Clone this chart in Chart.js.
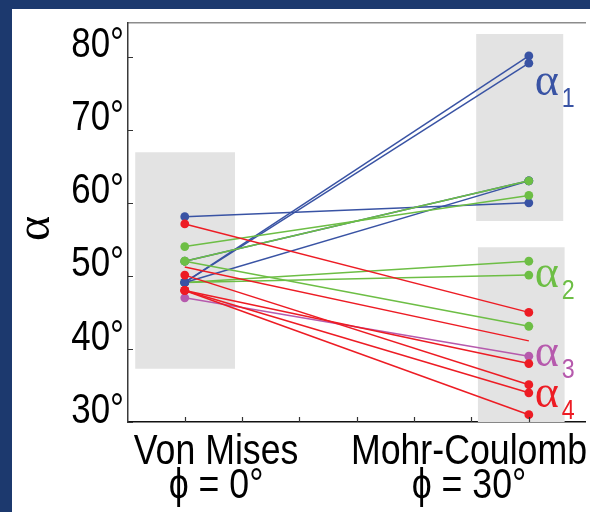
<!DOCTYPE html>
<html><head><meta charset="utf-8">
<script src="https://cdn.jsdelivr.net/npm/chart.js@4.4.1/dist/chart.umd.min.js"></script>
<style>
html,body{margin:0;padding:0;background:#1c396e;width:590px;height:512px;overflow:hidden}
#panel{position:absolute;left:12px;top:9px;width:578px;height:503px;background:#fff;overflow:hidden}
canvas{display:block}
</style></head><body>
<div id="panel"><canvas id="c" width="578" height="503"></canvas></div>
<script>
// ---- data ----
const categories = [['Von Mises', 'ϕ = 0°'], ['Mohr-Coulomb', 'ϕ = 30°']];
const yTickValues = [30, 35, 40, 45, 50, 55, 60, 65, 70, 75, 80];
const xTickValues = [0, 1/6, 2/6, 3/6, 4/6, 5/6, 1];

// alpha_1 (blue): Von Mises -> Mohr-Coulomb
const alpha1VonMises     = [58.1, 49.1, 49.1, 52.0, 49.1];
const alpha1MohrCoulomb  = [60.0, 80.1, 79.1, 63.0, 63.0];
// alpha_2 (green)
const alpha2VonMises     = [54.0, 52.0, 52.0, 49.1, 49.1];
const alpha2MohrCoulomb  = [61.0, 63.0, 43.1, 52.0, 50.1];
// alpha_3 (purple)
const alpha3VonMises     = [47.0];
const alpha3MohrCoulomb  = [39.0];
// alpha_4 (red)
const alpha4VonMises     = [57.1, 51.2, 48.0, 50.1, 48.0, 48.0];
const alpha4MohrCoulomb  = [45.0, 41.1, 38.0, 35.1, 34.0, 31.0];

// shaded ranges: x extent and (low, high) in data units
const rangeVonMisesX     = [-0.144, 0.146];
const rangeVonMisesY     = [37.3, 66.9];
const rangeMohrUpperX    = [0.847, 1.100];
const rangeMohrUpperY    = [57.5, 83.1];
const rangeMohrLowerX    = [0.852, 1.104];
const rangeMohrLowerY    = [30.0, 53.9];

// ---- styles ----
const BLUE = '#3953a4', GREEN = '#6dbe45', PURPLE = '#b65aad', RED = '#ed1c24';
const SANS = '"Liberation Sans", Arial, sans-serif';
const SERIF = '"Liberation Serif", "DejaVu Serif", serif';
const CONDENSE = 0.83;
const X_MIN = -0.165, X_MAX = 1.165, Y_MIN = 30, Y_MAX = 84.6;

// Linear scale whose tick labels are drawn horizontally condensed (narrow face look)
class CondensedLinear extends Chart.LinearScale {
  drawLabels(chartArea) {
    if (!this.options.ticks.display) return;
    const ctx = this.ctx, k = this.options.condense || CONDENSE;
    for (const item of this.getLabelItems(chartArea)) {
      const o = item.options;
      ctx.save();
      ctx.translate(o.translation[0], o.translation[1]);
      if (o.rotation) ctx.rotate(o.rotation);
      ctx.scale(k, 1);
      ctx.font = item.font.string;
      ctx.fillStyle = o.color;
      ctx.textAlign = o.textAlign;
      ctx.textBaseline = o.textBaseline;
      const lines = Array.isArray(item.label) ? item.label : [item.label];
      let y = item.textOffset;
      for (const line of lines) { ctx.fillText(line, 0, y); y += item.font.lineHeight; }
      ctx.restore();
    }
  }
}
CondensedLinear.id = 'condensedLinear';
CondensedLinear.defaults = Chart.LinearScale.defaults;
Chart.register(CondensedLinear);

function makeLines(lefts, rights, color, orderFn, noMarkerIdx) {
  return lefts.map((l, i) => ({
    type: 'line',
    data: [{x: 0, y: l}, {x: 1, y: rights[i]}],
    borderColor: color, backgroundColor: color,
    borderWidth: 1.5,
    pointRadius: i === noMarkerIdx ? 0 : 4.4,
    pointBorderWidth: 0, pointHoverRadius: 0,
    fill: false, tension: 0,
    xAxisID: 'x', yAxisID: 'y',
    order: orderFn(i)
  }));
}

function makeBox(xr, yr) {
  return {
    type: 'line',
    data: [{x: xr[0], y: yr[0]}, {x: xr[0], y: yr[1]}, {x: xr[1], y: yr[1]}, {x: xr[1], y: yr[0]}, {x: xr[0], y: yr[0]}],
    fill: 'shape', backgroundColor: '#e3e3e3', borderColor: 'rgba(0,0,0,0)', borderWidth: 0,
    pointRadius: 0, pointHoverRadius: 0, tension: 0,
    xAxisID: 'x', yAxisID: 'y', order: 100
  };
}

const datasets = [
  makeBox(rangeVonMisesX, rangeVonMisesY),
  makeBox(rangeMohrUpperX, rangeMohrUpperY),
  makeBox(rangeMohrLowerX, rangeMohrLowerY),
  ...makeLines(alpha1VonMises, alpha1MohrCoulomb, BLUE, i => i === 3 ? 50 : 30, -1),
  ...makeLines(alpha2VonMises, alpha2MohrCoulomb, GREEN, i => i >= 3 ? 40 : 20, -1),
  ...makeLines(alpha3VonMises, alpha3MohrCoulomb, PURPLE, () => 15, -1),
  ...makeLines(alpha4VonMises, alpha4MohrCoulomb, RED, () => 10, 1)
];

const innerTicks = {
  id: 'innerTicks',
  afterDraw(chart) {
    const ctx = chart.ctx, a = chart.chartArea;
    const xs = chart.scales.x, ys = chart.scales.y;
    ctx.save();
    ctx.strokeStyle = '#333'; ctx.lineWidth = 1.2;
    ctx.beginPath();
    ys.ticks.forEach(t => {
      const p = Math.round(ys.getPixelForValue(t.value)) + 0.5;
      ctx.moveTo(a.left, p); ctx.lineTo(a.left + 5, p);
    });
    xs.ticks.forEach(t => {
      const p = Math.round(xs.getPixelForValue(t.value)) + 0.5;
      ctx.moveTo(p, a.bottom); ctx.lineTo(p, a.bottom - 5);
    });
    ctx.stroke();
    ctx.restore();
  }
};

const seriesLabels = {
  id: 'seriesLabels',
  afterDatasetsDraw(chart, args, opts) {
    const ctx = chart.ctx, xs = chart.scales.x, ys = chart.scales.y;
    ctx.save();
    opts.items.forEach(it => {
      const x = xs.getPixelForValue(1) + opts.dx;
      const yb = ys.getPixelForValue(it.y);
      ctx.fillStyle = it.color;
      ctx.textBaseline = 'alphabetic';
      ctx.textAlign = 'left';
      ctx.font = '46px ' + SERIF;
      ctx.fillText('α', x, yb);
      ctx.save();
      ctx.translate(x + opts.subDx, yb + opts.subDy);
      ctx.scale(CONDENSE, 1);
      ctx.font = '28px ' + SANS;
      ctx.fillText(it.sub, 0, 0);
      ctx.restore();
    });
    ctx.restore();
  }
};

new Chart(document.getElementById('c'), {
  type: 'line',
  data: {datasets},
  plugins: [innerTicks, seriesLabels],
  options: {
    responsive: false, devicePixelRatio: 1, animation: false,
    events: [],
    layout: {padding: {left: 0, right: 0, top: 14, bottom: 0}},
    plugins: {
      legend: {display: false}, tooltip: {enabled: false},
      seriesLabels: {
        dx: 6, subDx: 27, subDy: 12,
        items: [
          {sub: '1', y: 74.7, color: BLUE},
          {sub: '2', y: 48.5, color: GREEN},
          {sub: '3', y: 37.7, color: PURPLE},
          {sub: '4', y: 32.1, color: RED}
        ]
      }
    },
    scales: {
      x: {
        type: 'linear', position: 'bottom', min: X_MIN, max: X_MAX, weight: 0,
        afterBuildTicks: s => { s.ticks = xTickValues.map(v => ({value: v})); },
        afterFit: s => { s.height = 0; s.paddingLeft = 0; s.paddingRight = 0; },
        ticks: {display: false},
        grid: {display: false, drawTicks: false},
        border: {display: true, color: '#111', width: 1.5}
      },
      xl: {
        type: 'condensedLinear', position: 'bottom', min: X_MIN, max: X_MAX, weight: 3,
        condense: 0.85,
        afterBuildTicks: s => { s.ticks = [{value: 0.091}, {value: 0.826}]; },
        afterFit: s => { s.height = 90; s.paddingLeft = 0; s.paddingRight = 0; },
        ticks: {
          autoSkip: false, maxRotation: 0, minRotation: 0, padding: 12.6, color: '#000',
          font: {family: SANS, size: 42, lineHeight: 0.83},
          callback: (v, i) => categories[i]
        },
        grid: {display: false, drawTicks: false},
        border: {display: false}
      },
      xTop: {
        type: 'linear', position: 'top', min: X_MIN, max: X_MAX,
        afterFit: s => { s.height = 0; s.paddingLeft = 0; s.paddingRight = 0; },
        ticks: {display: false},
        grid: {display: false, drawTicks: false},
        border: {display: true, color: '#8c8c8c', width: 1.5}
      },
      y: {
        type: 'condensedLinear', position: 'left', min: Y_MIN, max: Y_MAX,
        afterBuildTicks: s => { s.ticks = yTickValues.map(v => ({value: v})); },
        afterFit: s => { s.width = 116; s.paddingTop = 0; s.paddingBottom = 0; },
        ticks: {
          padding: 4, labelOffset: -11, color: '#000',
          font: {family: SANS, size: 42, lineHeight: 1},
          callback: v => (v % 10 === 0 ? v + '°' : '')
        },
        grid: {display: false, drawTicks: false},
        border: {display: true, color: '#3a3a3a', width: 1.5},
        title: {
          display: true, text: 'α ', color: '#000',
          font: {family: SERIF, size: 48, lineHeight: 1},
          padding: {top: 0, bottom: 0}
        }
      }
    }
  }
});
</script>
</body></html>
